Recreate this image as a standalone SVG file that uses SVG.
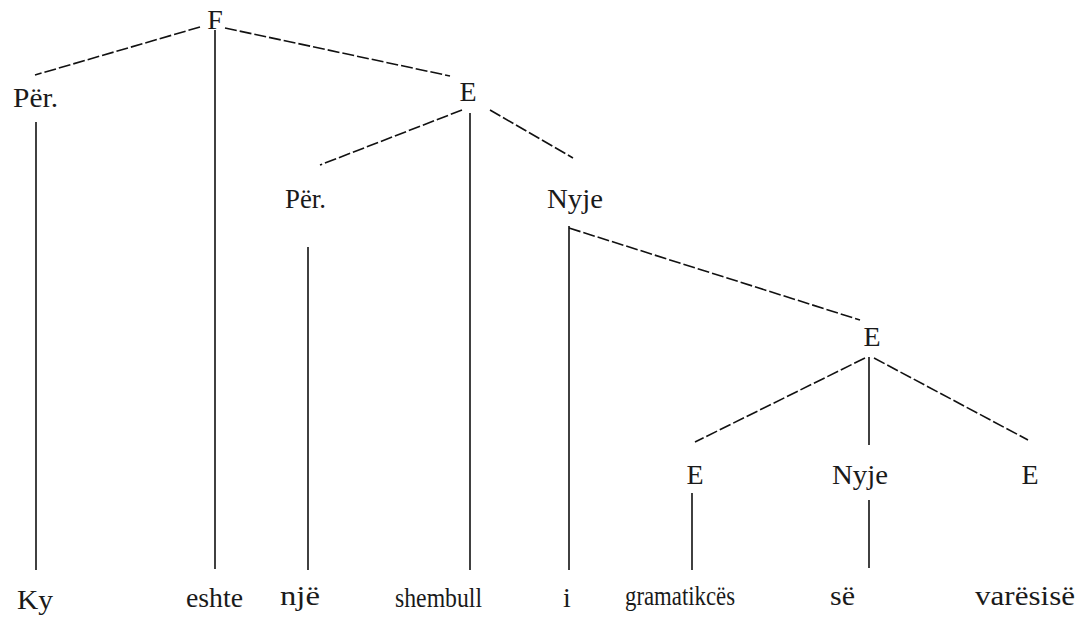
<svg xmlns="http://www.w3.org/2000/svg" width="1089" height="617" viewBox="0 0 1089 617">
<style>
text{font-family:'Liberation Serif','DejaVu Serif',serif;font-size:28px;fill:#1a1a1a}
.c{text-anchor:middle}
.s{stroke:#111;stroke-width:1.6;fill:none}
.d{stroke:#111;stroke-width:1.6;fill:none;stroke-dasharray:12 3}
</style>
<rect width="1089" height="617" fill="#fff"/>
<g id="connectors">
<line class="d" x1="200" y1="27" x2="35" y2="75"/>
<line class="d" x1="225" y1="28" x2="450" y2="76"/>
<line class="s" x1="215" y1="30" x2="215" y2="569"/>
<line class="s" x1="36" y1="122" x2="36" y2="570"/>
<line class="d" x1="462" y1="110" x2="320" y2="165"/>
<line class="d" x1="490" y1="110" x2="573" y2="158"/>
<line class="s" x1="470" y1="113" x2="470" y2="570"/>
<line class="s" x1="308" y1="247" x2="308" y2="570"/>
<line class="s" x1="569" y1="226" x2="569" y2="570"/>
<line class="d" x1="569" y1="228" x2="860" y2="320"/>
<line class="s" x1="869" y1="357" x2="869" y2="445"/>
<line class="d" x1="865" y1="358" x2="695" y2="442"/>
<line class="d" x1="874" y1="358" x2="1028" y2="440"/>
<line class="s" x1="692" y1="493" x2="692" y2="570"/>
<line class="s" x1="869" y1="500" x2="869" y2="568"/>
</g>
<g font-family="Liberation Serif, DejaVu Serif, serif" font-size="28">
<g id="n-F"><text class="c" x="215" y="29">F</text></g>
<g id="n-Per1"><text x="13" y="107" textLength="45" lengthAdjust="spacingAndGlyphs">Për.</text></g>
<g id="n-E1"><text class="c" x="468" y="101">E</text></g>
<g id="n-Per2"><text x="285" y="208" textLength="41" lengthAdjust="spacingAndGlyphs">Për.</text></g>
<g id="n-Nyje1"><text x="547" y="208" textLength="56" lengthAdjust="spacingAndGlyphs">Nyje</text></g>
<g id="n-E2"><text class="c" x="872" y="346">E</text></g>
<g id="n-E3"><text class="c" x="695" y="484">E</text></g>
<g id="n-Nyje2"><text x="832" y="484" textLength="56" lengthAdjust="spacingAndGlyphs">Nyje</text></g>
<g id="n-E4"><text class="c" x="1030" y="484">E</text></g>
<g id="w-Ky"><text x="17" y="609" textLength="36" lengthAdjust="spacingAndGlyphs">Ky</text></g>
<g id="w-eshte"><text x="186" y="607" textLength="57" lengthAdjust="spacingAndGlyphs">eshte</text></g>
<g id="w-nje"><text x="280" y="605" textLength="40" lengthAdjust="spacingAndGlyphs">një</text></g>
<g id="w-shembull"><text x="395" y="607" textLength="87" lengthAdjust="spacingAndGlyphs">shembull</text></g>
<g id="w-i"><text x="563" y="607">i</text></g>
<g id="w-gramatikes"><text x="625" y="605" textLength="110" lengthAdjust="spacingAndGlyphs">gramatikcës</text></g>
<g id="w-se"><text x="830" y="605" textLength="25" lengthAdjust="spacingAndGlyphs">së</text></g>
<g id="w-varesise"><text x="975" y="605" textLength="100" lengthAdjust="spacingAndGlyphs">varësisë</text></g>
</g>
</svg>
